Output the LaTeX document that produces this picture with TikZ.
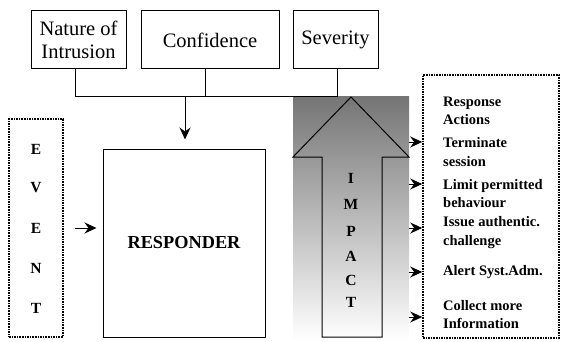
\documentclass[tikz,border=0pt]{standalone}
\usepackage{fontspec}
\setmainfont{Liberation Serif}
\usetikzlibrary{arrows.meta,shapes.geometric}

\tikzset{
	box/.style={draw, line width=1pt, inner sep=0pt},
	dotbox/.style={draw, line width=1.6pt, dash pattern=on 1.6pt off 1pt, inner sep=0pt},
	act/.style={anchor=west, align=left, font=\bfseries\fontsize{14.5}{18.5}\selectfont, inner sep=0pt},
	letter/.style={font=\bfseries\fontsize{15.5}{15.5}\selectfont, inner sep=0pt},
	arr/.style={-{Stealth[length=12pt,width=11pt,inset=4pt]}, line width=1pt}
}

\begin{document}
\begin{tikzpicture}[x=1pt,y=-1pt]
	\useasboundingbox (0,0) rectangle (564,342);
	% inputs
	\node[box, minimum width=95pt, minimum height=58pt, align=center, font=\fontsize{20.5}{23}\selectfont] (nat) at (78.5,40) {Nature of\\Intrusion};
	\node[box, minimum width=138pt, minimum height=58pt, font=\fontsize{20.5}{23}\selectfont] (conf) at (210,40) {Confidence};
	\node[box, minimum width=85pt, minimum height=58pt, font=\fontsize{20.5}{23}\selectfont] (sev) at (335.5,40) {Severity};
	\coordinate (b1) at (75,97);
	\coordinate (b2) at (205,97);
	\coordinate (b3) at (337,97);
	\coordinate (b0) at (185,97);
	% impact
	\shade[top color=black!54, middle color=black!30, bottom color=white] (293,97) rectangle (409,340);
	\node[minimum width=116pt, minimum height=243pt, inner sep=0pt] (imp) at (351,218.5) {};
	\draw[line width=1pt] (351,97) -- (409,157) -- (382,157) -- (382,337) -- (322,337) -- (322,157) -- (293,157) -- cycle;
	\node[letter] (i1) at (351,178) {I};
	\node[letter] (i2) at (351,204) {M};
	\node[letter] (i3) at (351,231) {P};
	\node[letter] (i4) at (351,256) {A};
	\node[letter] (i5) at (351,280) {C};
	\node[letter] (i6) at (351,302) {T};
	% responder
	\node[box, minimum width=162pt, minimum height=188pt, font=\bfseries\fontsize{18.3}{20}\selectfont] (resp) at (184,243) {RESPONDER};
	\draw[line width=1pt] (b1 |- nat.south) -- (b1) -- (b3) -- (b3 |- sev.south);
	\draw[line width=1pt] (b2 |- conf.south) -- (b2);
	\draw[arr, shorten >=9pt] (b0) -- (b0 |- resp.north);
	% event
	\node[dotbox, minimum width=54pt, minimum height=218pt] (event) at (36,228) {};
	\node[letter] (e1) at (36,149) {E};
	\node[letter] (e2) at (36,188) {V};
	\node[letter] (e3) at (36,228) {E};
	\node[letter] (e4) at (36,268) {N};
	\node[letter] (e5) at (36,308) {T};
	\draw[arr, shorten <=11pt, shorten >=6pt] (event.east |- e3) -- (resp.west |- e3);
	% response actions
	\node[dotbox, minimum width=136pt, minimum height=263pt] (resp act) at (491,206.5) {};
	\node[act] (a0) at (443,111) {Response\\Actions};
	\node[act] (a1) at (443,152) {Terminate\\session};
	\node[act] (a2) at (443,193.5) {Limit permitted\\behaviour};
	\node[act] (a3) at (443,232.5) {Issue authentic.\\challenge};
	\node[act] (a4) at (443,272) {Alert Syst.Adm.};
	\node[act] (a5) at (443,314.5) {Collect more\\Information};
	\coordinate (t1) at (409,142);
	\coordinate (t2) at (409,184);
	\coordinate (t3) at (409,228);
	\coordinate (t4) at (409,272);
	\coordinate (t5) at (409,317);
	\draw[arr] (t1) -- (t1 -| resp act.west);
	\draw[arr] (t2) -- (t2 -| resp act.west);
	\draw[arr] (t3) -- (t3 -| resp act.west);
	\draw[arr] (t4) -- (t4 -| resp act.west);
	\draw[arr] (t5) -- (t5 -| resp act.west);
\end{tikzpicture}
\end{document}
